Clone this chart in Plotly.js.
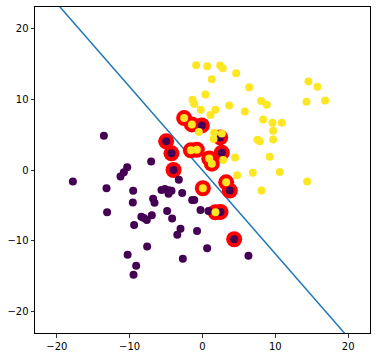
<!DOCTYPE html>
<html>
<head>
<meta charset="utf-8">
<script src="https://cdn.plot.ly/plotly-3.0.1.min.js"></script>
<style>html,body{margin:0;padding:0;background:#fff;}#chart{width:377px;height:357px;}</style>
</head>
<body>
<div id="chart"></div>
<script>
// Class 0 (purple) points
const purpleX = [-0.09, 2.43, 2.65, -4.99, -4.26, -3.98, 3.75, 2.47, 4.35,
  -13.54, -10.34, -10.80, -11.26, -17.80, -13.18, -9.52, -7.05, -3.25,
  -5.63, -5.17, -4.62, -4.67, -4.26, -2.79, -1.42, -1.14, -0.27, 0.82,
  -9.57, -6.78, -6.59, -13.10, -4.86, -8.40, -8.05, -7.65, -6.96, -4.17,
  -9.39, -3.02, -0.75, -3.46, -7.60, 0.64, -2.70, -10.28, -9.11, -9.47, 6.31];
const purpleY = [6.29, 4.60, 2.44, 4.04, 2.35, 0.0, -2.91, -5.92, -9.77,
  4.85, 0.40, -0.30, -0.92, -1.62, -2.58, -2.93, 1.21, -1.36,
  -2.82, -2.68, -2.87, -3.34, -2.92, -3.24, -4.23, -4.23, -5.63, -5.77,
  -4.58, -4.06, -4.62, -5.95, -5.80, -6.60, -6.76, -7.05, -6.38, -6.85,
  -7.77, -8.29, -8.60, -9.15, -10.78, -11.03, -12.54, -11.95, -13.50, -14.77, -12.11];
// Class 1 (yellow) points
const yellowX = [-0.87, 0.64, 2.43, 2.79, 4.62, 1.28, 6.41, 14.55, 15.79, 14.28, 16.84,
  0.41, -1.37, -1.14, -0.23, 1.10, 1.78, 3.66, 5.81, 8.05, 8.83, 8.33, 9.61, 10.89,
  9.70, 9.70, 7.55, 7.87, 9.24, 4.48, 2.84, 4.76, 6.91, 10.62, 14.37, 8.10,
  -2.52, -1.46, -0.50, 1.60, 2.65, 1.51, -1.60, -0.78, 0.92, 1.28, 0.05, 3.25, 1.78];
const yellowY = [14.79, 14.65, 14.74, 14.37, 13.66, 12.82, 11.69, 12.49, 11.74, 9.62, 9.81,
  10.66, 9.91, 9.30, 8.50, 7.75, 8.50, 9.11, 8.26, 9.72, 9.20, 7.14, 6.67, 6.67,
  5.54, 4.32, 4.27, 4.04, 1.88, 1.78, 1.41, -0.75, -0.38, -0.28, -1.64, -2.91,
  7.32, 6.43, 5.35, 5.26, 5.16, 4.37, 2.77, 2.86, 1.64, 0.89, -2.58, -1.74, -5.96];
// Support vectors
const svX = [-2.52, -1.46, -1.60, -0.78, 0.92, 1.28, 0.05, 3.25, 1.78,
  -0.09, 2.43, 2.65, -4.99, -4.26, -3.98, 3.75, 2.47, 4.35];
const svY = [7.32, 6.43, 2.77, 2.86, 1.64, 0.89, -2.58, -1.74, -5.96,
  6.29, 4.60, 2.44, 4.04, 2.35, 0.0, -2.91, -5.92, -9.77];
// Decision boundary y = slope*x + intercept
const boundarySlope = -1.178;
const boundaryIntercept = -0.05;
const boundaryXRange = [-25, 25];
const tickVals = [-20, -10, 0, 10, 20];

const lineY = boundaryXRange.map(x => boundarySlope * x + boundaryIntercept);

const traces = [
  {x: boundaryXRange, y: lineY, mode: 'lines', line: {color: '#1f77b4', width: 1.5}, hoverinfo: 'skip'},
  {x: svX, y: svY, mode: 'markers', marker: {color: '#ff0000', size: 16, line: {width: 0}}},
  {x: purpleX, y: purpleY, mode: 'markers', marker: {color: '#440154', size: 8, line: {width: 0}}},
  {x: yellowX, y: yellowY, mode: 'markers', marker: {color: '#fde725', size: 8, line: {width: 0}}}
];

const axisCommon = {
  range: [-23, 23], tickvals: tickVals, showgrid: false, zeroline: false,
  showline: true, mirror: true, linecolor: '#000', linewidth: 1,
  ticks: 'outside', ticklen: 3.5, tickcolor: '#000', tickwidth: 0.8,
  tickfont: {family: 'DejaVu Sans', size: 10, color: '#000'}
};

const layout = {
  width: 377, height: 357,
  margin: {l: 35, r: 7, t: 7, b: 24, pad: 0},
  showlegend: false,
  paper_bgcolor: '#fff', plot_bgcolor: '#fff',
  xaxis: Object.assign({}, axisCommon),
  yaxis: Object.assign({}, axisCommon)
};

Plotly.newPlot('chart', traces, layout, {displayModeBar: false, staticPlot: true});
</script>
</body>
</html>
